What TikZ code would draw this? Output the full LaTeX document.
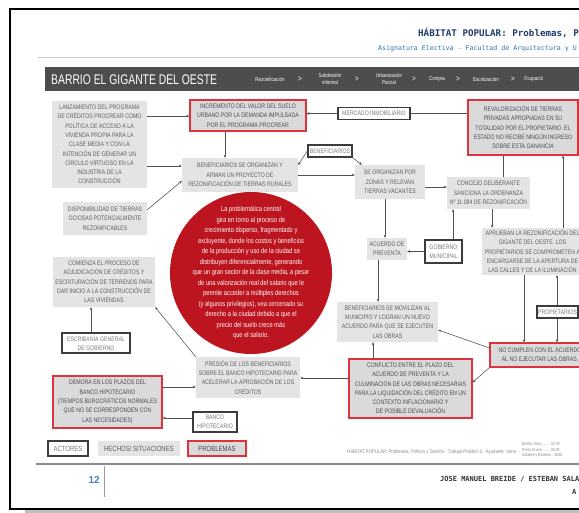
\documentclass[tikz,border=0pt]{standalone}
\usepackage{fontspec}
\setmainfont{Liberation Sans}
\newfontfamily\nfont[FakeStretch=0.8]{Liberation Sans}
\newfontfamily\wfont[FakeStretch=0.74]{Liberation Sans}
\newfontfamily\mfont{DejaVu Sans Mono}
\usetikzlibrary{arrows.meta}
\definecolor{hechofill}{HTML}{E4E4E4}
\definecolor{probfill}{HTML}{DADADA}
\definecolor{probred}{HTML}{E0323C}
\definecolor{actline}{HTML}{3C3C3C}
\definecolor{txtgrey}{HTML}{5E5E5E}
\definecolor{acttxt}{HTML}{7A7A7A}
\definecolor{linegrey}{HTML}{505050}
\definecolor{circred}{HTML}{BC1520}
\definecolor{bandgrey}{HTML}{4D4D4D}
\definecolor{titleblue}{HTML}{1F3A6E}
\definecolor{subblue}{HTML}{2E74B5}
\definecolor{numblue}{HTML}{4F81BD}
\definecolor{rulegrey}{HTML}{C8C8C8}
\definecolor{footgrey}{HTML}{8A8A8A}
\newcommand\boxfnt{\nfont\fontsize{6.5}{9.3}\selectfont}
\newcommand\circfnt{\nfont\fontsize{7.2}{10.5}\selectfont}
\newcommand\navfnt{\nfont\fontsize{5.6}{6.4}\selectfont}
\tikzset{
  hecho/.style={fill=hechofill, text=txtgrey, font=\boxfnt, align=center, inner sep=1pt},
  prob/.style={hecho, fill=probfill, draw=probred, line width=1.3pt, text=txtgrey!80!black},
  actor/.style={fill=white, draw=actline, line width=1.4pt, text=acttxt, font=\boxfnt, align=center, inner sep=1pt},
  sz/.style 2 args={minimum width=#1, minimum height=#2},
  arr/.style={draw=linegrey, line width=0.55pt, -{Stealth[length=3pt,width=2.6pt]}},
  ln/.style={draw=linegrey, line width=0.55pt},
  navtxt/.style={text=white, font=\navfnt, align=center, inner sep=0pt},
  navsep/.style={text=white, font=\nfont\fontsize{8}{8}\selectfont, inner sep=0pt}
}
\begin{document}
\begin{tikzpicture}[x=1pt,y=-1pt]
\useasboundingbox (0,0) rectangle (579,513);
\clip (0,0) rectangle (579,513);
\fill[white] (0,0) rectangle (579,513);
% page frame and shadow
\fill[black!25] (25,509) rectangle (620,513);
\draw[black, line width=1.6pt] (10,9) rectangle (620,509);
% header
\node[anchor=base west, font=\mfont\bfseries\fontsize{9.2}{10}\selectfont, text=titleblue, inner sep=0pt] (title) at (418,37) {HÁBITAT POPULAR: Problemas, P};
\node[anchor=base west, font=\mfont\fontsize{6.6}{7}\selectfont, text=subblue, inner sep=0pt] (subtitle) at (378,51) {Asignatura Electiva - Facultad de Arquitectura y U};
\draw[rulegrey, line width=0.9pt] (38,57) -- (620,57);
\fill[bandgrey] (45,67) rectangle (620,91);
\node[anchor=west, text=white, font=\wfont\fontsize{14}{14}\selectfont, inner sep=0pt] (barrio) at (51,79.5) {BARRIO EL GIGANTE DEL OESTE};
\node[navtxt] (n1) at (270,79) {Rezonificación};
\node[navsep] (s1) at (300,79) {>};
\node[navtxt] (n2) at (330,79) {Subdivisión\\informal};
\node[navsep] (s2) at (357,79) {>};
\node[navtxt] (n3) at (389,79) {Urbanización\\Parcial};
\node[navsep] (s3) at (414,79) {>};
\node[navtxt] (n4) at (437,79) {Compra};
\node[navsep] (s4) at (458,79) {>};
\node[navtxt] (n5) at (486,79) {Escrituración};
\node[navsep] (s5) at (513,79) {>};
\node[navtxt, anchor=west] (n6) at (524,79) {Ocupació};

% circle
\node[circle, fill=circred, minimum size=162, inner sep=0pt] (probc) at (251,273) {};
\node[text=white, font=\circfnt, align=center, inner sep=0pt] (probtxt) at (probc.center) {La problemática central\\gira en torno al proceso de\\crecimiento disperso, fragmentado y\\excluyente, donde los costos y beneficios\\de la producción y uso de la ciudad se\\distribuyen diferencialmente, generando\\que un gran sector de la clase media, a pesar\\de una valorización real del salario que le\\permite acceder a múltiples derechos\\(y algunos privilegios), vea cercenado su\\derecho a la ciudad debido a que el\\precio del suelo crece más\\que el salario.};

% boxes
\node[hecho, sz={95}{87}] (lanz) at (99.5,144.5) {LANZAMIENTO DEL PROGRAMA\\DE CRÉDITOS PROCREAR COMO\\POLÍTICA DE ACCESO A LA\\VIVIENDA PROPIA PARA LA\\CLASE MEDIA Y CON LA\\INTENCIÓN DE GENERAR UN\\CÍRCULO VIRTUOSO EN LA\\INDUSTRIA DE LA\\CONSTRUCCIÓN};
\node[prob, sz={116}{31}] (incr) at (248,115.5) {INCREMENTO DEL VALOR DEL SUELO\\URBANO POR LA DEMANDA IMPULSADA\\POR EL PROGRAMA PROCREAR};
\node[hecho, sz={116}{34}] (benorg) at (240,175) {BENEFICIARIOS SE ORGANIZAN Y\\ARMAN UN PROYECTO DE\\REZONIFICACIÓN DE TIERRAS RURALES};
\node[actor, sz={72}{12}] (mercado) at (374,113.5) {MERCADO INMOBILIARIO};
\node[prob, sz={110}{55}] (reval) at (523,127.5) {REVALORIZACIÓN DE TIERRAS\\PRIVADAS APROPIADAS EN SU\\TOTALIDAD POR EL PROPIETARIO. EL\\ESTADO NO RECIBE NINGÚN INGRESO\\SOBRE ESTA GANANCIA};
\node[actor, sz={44}{12}] (benact) at (330,151) {BENEFICIARIOS};
\node[hecho, sz={70}{34}] (zonas) at (390,182) {SE ORGANIZAN POR\\ZONAS Y RELEVAN\\TIERRAS VACANTES};
\node[hecho, sz={83}{32}] (concejo) at (488.5,193) {CONCEJO DELIBERANTE\\SANCIONA LA ORDENANZA\\Nº 11.094 DE REZONIFICACIÓN};
\node[hecho, sz={101}{47}] (aprueban) at (532.5,251.5) {APRUEBAN LA REZONIFICACIÓN DEL\\GIGANTE DEL OESTE. LOS\\PROPIETARIOS SE COMPROMETEN A\\ENCARGARSE DE LA APERTURA DE\\LAS CALLES Y DE LA ILUMINACIÓN};
\node[actor, sz={37}{23}] (gobierno) at (443.5,251.5) {GOBIERNO\\MUNICIPAL};
\node[hecho, sz={40}{22}] (acuerdo) at (387,249) {ACUERDO DE\\PREVENTA};
\node[hecho, sz={101}{40}] (moviliz) at (387.5,322) {BENEFICIARIOS SE MOVILIZAN AL\\MUNICIPIO Y LOGRAN UN NUEVO\\ACUERDO PARA QUE SE EJECUTEN\\LAS OBRAS};
\node[actor, sz={41}{12}] (propiet) at (557.5,312) {PROPIETARIOS};
\node[prob, sz={100}{24}] (nocump) at (540,355) {NO CUMPLEN CON EL ACUERDO\\AL NO EJECUTAR LAS OBRAS.};
\node[prob, sz={123}{59}] (conflicto) at (410.5,388.5) {CONFLICTO ENTRE EL PLAZO DEL\\ACUERDO DE PREVENTA Y LA\\CULMINACIÓN DE LAS OBRAS NECESARIAS\\PARA LA LIQUIDACIÓN DEL CRÉDITO EN UN\\CONTEXTO INFLACIONARIO Y\\DE POSIBLE DEVALUACIÓN};
\node[hecho, sz={104}{41}] (presion) at (248,377.5) {PRESIÓN DE LOS BENEFICIARIOS\\SOBRE EL BANCO HIPOTECARIO PARA\\ACELERAR LA APROBACIÓN DE LOS\\CRÉDITOS};
\node[prob, sz={109}{52}] (demora) at (107.5,402) {DEMORA EN LOS PLAZOS DEL\\BANCO HIPOTECARIO\\(TIEMPOS BUROCRÁTICOS NORMALES\\QUE NO SE CORRESPONDEN CON\\LAS NECESIDADES)};
\node[actor, sz={44}{20}] (banco) at (215,422) {BANCO\\HIPOTECARIO};
\node[hecho, sz={102}{50}] (comienza) at (104,282) {COMIENZA EL PROCESO DE\\ADJUDICACIÓN DE CRÉDITOS Y\\ESCRITURACIÓN DE TERRENOS PARA\\DAR INICIO A LA CONSTRUCCIÓN DE\\LAS VIVIENDAS};
\node[actor, sz={68}{20}] (escrib) at (96,343) {ESCRIBANÍA GENERAL\\DE GOBIERNO};
\node[hecho, sz={84}{33}] (dispon) at (105,218.5) {DISPONIBILIDAD DE TIERRAS\\OCIOSAS POTENCIALMENTE\\REZONIFICABLES};

% legend
\node[actor, sz={40}{15}, font=\nfont\fontsize{7.5}{8}\selectfont] (legact) at (68,448.5) {ACTORES};
\node[hecho, sz={82}{15}, font=\nfont\fontsize{7.5}{8}\selectfont] (leghec) at (139,448.5) {HECHOS/ SITUACIONES};
\node[prob, sz={58}{15}, font=\nfont\fontsize{7.5}{8}\selectfont] (legprob) at (217,448.5) {PROBLEMAS};

% helper coordinates
\coordinate (yA) at (0,116);
\coordinate (yB) at (0,166);
\coordinate (yC) at (0,187);
\coordinate (yD) at (0,378);
\coordinate (yE) at (0,387);
\coordinate (yF) at (0,418);
\coordinate (xA) at (225,0);
\coordinate (xB) at (503,0);
\coordinate (xC) at (492,0);
\coordinate (xD) at (453,0);
\coordinate (xE) at (385,0);
\coordinate (xF) at (378,0);
\coordinate (xG) at (563,0);
\coordinate (xH) at (524,0);
\coordinate (xI) at (557,0);
\coordinate (xJ) at (373,0);
\coordinate (xK) at (91,0);

% connectors
\draw[arr] (lanz.east |- yA) -- (incr.west |- yA);
\draw[arr] (lanz.east |- yB) -- (benorg.west |- yB);
\draw[arr] (incr.south -| xA) -- (benorg.north -| xA);
\draw[arr] (mercado.west) -- (incr.east |- mercado.west);
\draw[ln] (mercado.east) -- (reval.west |- mercado.east);
\draw[arr] (benact.west) -- ([yshift=10pt]benorg.east);
\draw[arr] (benact.south east) -- ([xshift=7pt]zonas.north west);
\draw[arr] (benorg.east) -- (zonas.west |- benorg.east);
\draw[arr] (zonas.east |- yC) -- (concejo.west |- yC);
\draw[ln] (concejo.north -| xB) -- (reval.south -| xB);
\draw[arr] (concejo.south -| xC) -- (aprueban.north -| xC);
\draw[arr] (gobierno.north -| xD) -- (concejo.south -| xD);
\draw[arr] (gobierno.west) -- (acuerdo.east |- gobierno.west);
\draw[arr] (zonas.south -| xE) -- (acuerdo.north -| xE);
\draw[arr] (acuerdo.south -| xF) -- (moviliz.north -| xF);
\draw[arr] (aprueban.north -| xG) -- (reval.south -| xG);
\draw[arr] (aprueban.south -| xH) -- (nocump.north -| xH);
\draw[arr] (propiet.north -| xI) -- (aprueban.south -| xI);
\draw[arr] (propiet.south -| xI) -- (nocump.north -| xI);
\draw[arr] ([yshift=7pt]nocump.west) -- ([yshift=-8pt]moviliz.east);
\draw[arr] (nocump.south west) -- ([yshift=-24pt]conflicto.north east);
\draw[arr] (conflicto.north -| xJ) -- (moviliz.south -| xJ);
\draw[arr] (conflicto.west |- yD) -- (presion.east |- yD);
\draw[arr] (presion.north west) -- (comienza.south east);
\draw[arr] (demora.east |- yE) -- (presion.west |- yE);
\draw[arr] (banco.west |- yF) -- (demora.east |- yF);
\draw[arr] (escrib.north -| xK) -- (comienza.south -| xK);
\draw[arr] ([yshift=-8pt]dispon.north east) -- ([yshift=-6pt]benorg.west);

% footer
\node[anchor=east, text=footgrey, font=\nfont\fontsize{5.3}{6}\selectfont, inner sep=0pt] (foottxt) at (519,452) {HÁBITAT POPULAR: Problemas, Política y Gestión - Trabajo Práctico 2 - Ayudante: Irene -};
\node[anchor=west, text=footgrey, font=\nfont\fontsize{4.4}{5.6}\selectfont, align=left, inner sep=0pt] (names) at (522,450) {Breide Jose ........ 34.79\\Perez Bruno ....... 36.08\\Salaberry Esteban . 3958};
\draw[black!45, line width=1.6pt] (36,464) -- (620,464);
\draw[black!40, line width=0.8pt] (104,466) -- (104,497);
\node[anchor=base east, text=numblue, font=\bfseries\fontsize{10}{10}\selectfont, inner sep=0pt] (pagenum) at (100,483) {12};
\node[anchor=base west, text=black!80, font=\mfont\bfseries\fontsize{7}{8}\selectfont, inner sep=0pt] (authors) at (440,481) {JOSE MANUEL BREIDE / ESTEBAN SALA};
\node[anchor=base west, text=black!80, font=\mfont\bfseries\fontsize{7}{8}\selectfont, inner sep=0pt] (authors2) at (572,494) {A};
\end{tikzpicture}
\end{document}
